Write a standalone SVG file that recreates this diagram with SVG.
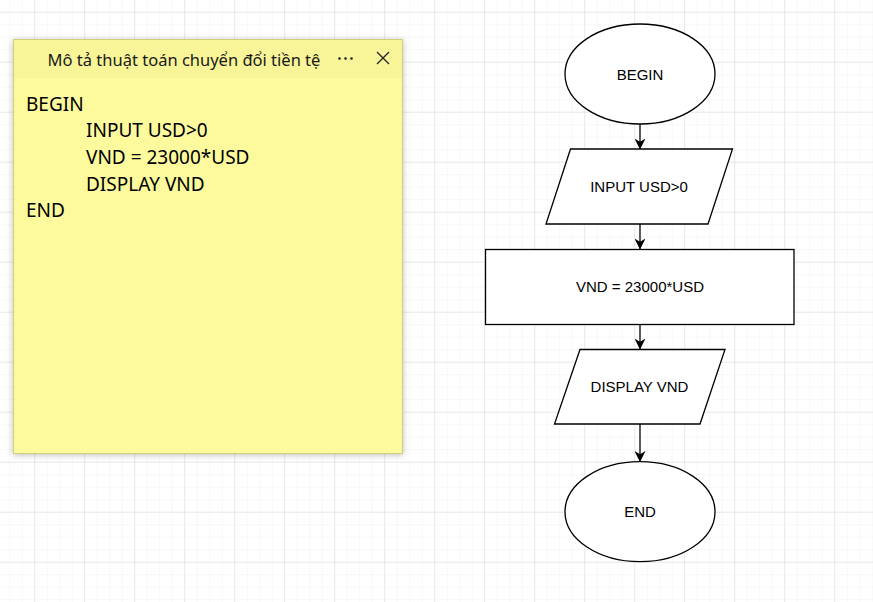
<svg xmlns="http://www.w3.org/2000/svg" width="873" height="602" viewBox="0 0 873 602">
<defs>
<pattern id="minor" x="9.2" y="-0.8" width="12.5" height="12.5" patternUnits="userSpaceOnUse">
<path d="M0 0H12.5M0 0V12.5" fill="none" stroke="#efefef" stroke-width="1"/>
</pattern>
<pattern id="major" x="34.2" y="11.7" width="50" height="50" patternUnits="userSpaceOnUse">
<path d="M0 0H50M0 0V50" fill="none" stroke="#d9d9d9" stroke-width="1"/>
</pattern>
<marker id="arr" viewBox="0 0 10 10" refX="9.5" refY="5" markerWidth="11" markerHeight="11" markerUnits="userSpaceOnUse" orient="auto">
<path d="M0 0L10 5L0 10L3 5Z" fill="#000"/>
</marker>
<filter id="sh" x="-10%" y="-10%" width="120%" height="120%">
<feDropShadow dx="0" dy="1" stdDeviation="3" flood-color="#000" flood-opacity="0.25"/>
</filter>
<style>
.shape{fill:#fff;stroke:#000;stroke-width:1.3}
.fc{font-family:"Liberation Sans",Arial,sans-serif;font-size:15px;fill:#000;text-anchor:middle}
.note{font-family:"Noto Sans","Open Sans",sans-serif;font-size:19px;fill:#000}
.conn{stroke:#000;stroke-width:1.3;fill:none;marker-end:url(#arr)}
</style>
</defs>
<rect width="873" height="602" fill="#ffffff"/>
<rect width="873" height="602" fill="url(#minor)"/>
<rect width="873" height="602" fill="url(#major)"/>

<g id="sticky-note">
<rect x="13.5" y="39.5" width="389" height="414" fill="#fdfa9d" stroke="#d3cf78" stroke-width="1" filter="url(#sh)"/>
<rect x="14" y="40" width="388" height="38" fill="#f8f598"/>
<text x="184" y="66" font-family="'Noto Sans','Open Sans',sans-serif" font-size="16.5" text-anchor="middle" fill="#1a1a1a">Mô tả thuật toán chuyển đổi tiền tệ</text>
<g fill="#222"><circle cx="339.5" cy="58.5" r="1.3"/><circle cx="345.5" cy="58.5" r="1.3"/><circle cx="351.5" cy="58.5" r="1.3"/></g>
<path d="M377 52L389 64M389 52L377 64" stroke="#222" stroke-width="1.3"/>
<text class="note" x="26" y="110.5">BEGIN</text>
<text class="note" x="86" y="137.2">INPUT USD&gt;0</text>
<text class="note" x="86" y="163.9">VND = 23000*USD</text>
<text class="note" x="86" y="190.6">DISPLAY VND</text>
<text class="note" x="26" y="217.3">END</text>
</g>

<g id="connectors">
<line class="conn" x1="640" y1="124" x2="640" y2="149"/>
<line class="conn" x1="640" y1="224" x2="640" y2="249"/>
<line class="conn" x1="640" y1="324" x2="640" y2="349"/>
<line class="conn" x1="640" y1="424" x2="640" y2="461.5"/>
</g>

<g id="begin">
<ellipse class="shape" cx="640" cy="74" rx="75" ry="50"/>
<text class="fc" x="640" y="79.5">BEGIN</text>
</g>
<g id="input">
<polygon class="shape" points="570.5,149 732.5,149 708,224 546,224"/>
<text class="fc" x="639" y="192">INPUT USD&gt;0</text>
</g>
<g id="process">
<rect class="shape" x="485.5" y="249.5" width="308.5" height="75"/>
<text class="fc" x="640" y="292">VND = 23000*USD</text>
</g>
<g id="display">
<polygon class="shape" points="580,349.5 725,349.5 700,424 554.5,424"/>
<text class="fc" x="639.5" y="391.5">DISPLAY VND</text>
</g>
<g id="end">
<ellipse class="shape" cx="640" cy="511.7" rx="75" ry="50"/>
<text class="fc" x="640" y="517">END</text>
</g>
</svg>
